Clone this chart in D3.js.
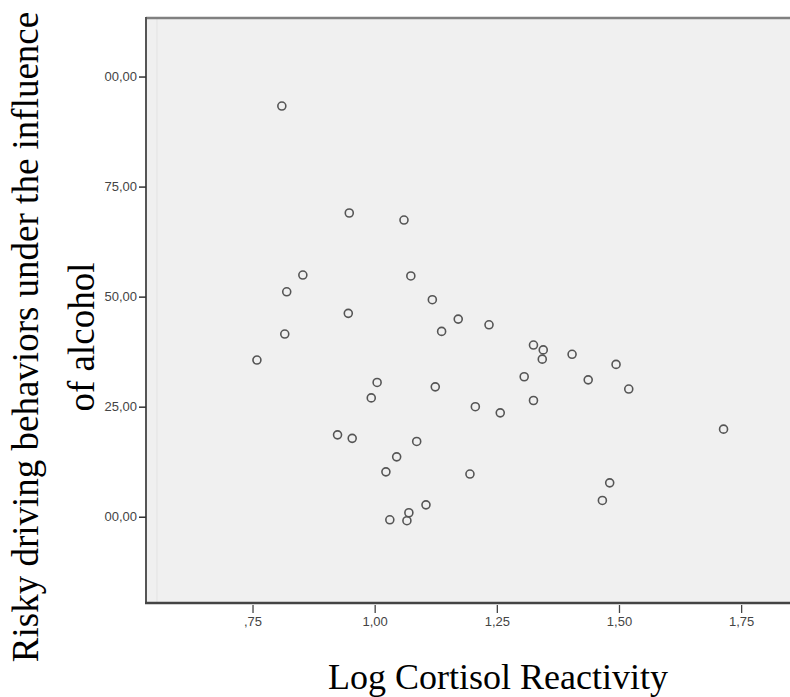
<!DOCTYPE html>
<html>
<head>
<meta charset="utf-8">
<script src="https://cdn.jsdelivr.net/npm/d3@7"></script>
<style>
  body { margin: 0; background: #fff; }
  .tick text { font-family: "Liberation Sans", Arial, sans-serif; fill: #444; }
</style>
</head>
<body>
<div id="chart"></div>
<script>
// data
const logCortisol = [
  0.810, 0.948, 1.060, 0.853, 1.074, 0.820, 1.118, 0.946, 1.171, 1.234,
  1.137, 0.816, 1.325, 1.345, 1.343, 1.404, 0.759, 1.494, 1.306, 1.437,
  1.005, 1.124, 1.520, 0.993, 1.325, 1.206, 1.257, 1.714, 0.924, 0.954,
  1.086, 1.045, 1.023, 1.195, 1.481, 1.466, 1.105, 1.070, 1.031, 1.066
];
const riskyDriving = [
  193.3, 169.0, 167.4, 154.9, 154.7, 151.1, 149.3, 146.2, 144.9, 143.6,
  142.1, 141.5, 139.0, 137.9, 135.8, 136.9, 135.6, 134.6, 131.8, 131.1,
  130.5, 129.5, 129.0, 127.0, 126.4, 125.0, 123.6, 119.9, 118.6, 117.8,
  117.1, 113.6, 110.2, 109.7, 107.7, 103.7, 102.7, 100.9, 99.3, 99.1
];

const xTickValues = [0.75, 1.00, 1.25, 1.50, 1.75];
const xTickLabels = [",75", "1,00", "1,25", "1,50", "1,75"];
const yTickValues = [100, 125, 150, 175, 200];
const yTickLabels = ["100,00", "125,00", "150,00", "175,00", "200,00"];

const xTitle = "Log Cortisol Reactivity";
const yTitle = ["Risky driving behaviors under the influence", "of alcohol"];

const W = 790;
const H = 697;
const plotLeft = 146, plotTop = 18, plotBottom = 603, plotRight = 790;

const svg = d3.select("#chart")
    .append("svg")
    .attr("width", W)
    .attr("height", H)

// scales
const xScale = d3.scaleLinear()
    .domain([0.532, 1.85])
    .range([plotLeft, plotRight])

const yScale = d3.scaleLinear()
    .domain([80.4, 213.3])
    .range([plotBottom, plotTop])

// plot background + frame
svg.append("rect")
    .attr("x", plotLeft)
    .attr("y", plotTop)
    .attr("width", W - plotLeft + 10)
    .attr("height", plotBottom - plotTop)
    .attr("fill", "#f0f0f0")

svg.append("line")
    .attr("x1", plotLeft + 11).attr("x2", plotLeft + 11)
    .attr("y1", plotTop).attr("y2", plotBottom)
    .attr("stroke", "#e3e3e3").attr("stroke-width", 1)

svg.append("line")
    .attr("x1", plotLeft).attr("x2", W + 5)
    .attr("y1", plotTop).attr("y2", plotTop)
    .attr("stroke", "#808080").attr("stroke-width", 2.5)

svg.append("line")
    .attr("x1", plotLeft).attr("x2", plotLeft)
    .attr("y1", plotTop - 1).attr("y2", plotBottom + 1)
    .attr("stroke", "#555").attr("stroke-width", 2)

svg.append("line")
    .attr("x1", plotLeft - 1).attr("x2", W + 5)
    .attr("y1", plotBottom).attr("y2", plotBottom)
    .attr("stroke", "#444").attr("stroke-width", 2.5)

// axes
const xAxis = d3.axisBottom(xScale)
    .tickValues(xTickValues)
    .tickFormat((d, i) => xTickLabels[i])
    .tickSize(8)
    .tickPadding(4)

const yAxis = d3.axisLeft(yScale)
    .tickValues(yTickValues)
    .tickFormat((d, i) => yTickLabels[i])
    .tickSize(7)
    .tickPadding(2)

// the y tick labels are cut off on their left side in the picture
svg.append("clipPath")
    .attr("id", "ylabclip")
    .append("rect")
    .attr("x", 104).attr("y", 0)
    .attr("width", W).attr("height", H)

const gx = svg.append("g")
    .attr("transform", "translate(0," + (plotBottom + 2) + ")")
    .call(xAxis)
gx.select(".domain").remove()
gx.selectAll(".tick line").attr("stroke", "#444").attr("stroke-width", 1.3)
gx.selectAll(".tick text").attr("font-size", 13)

const gy = svg.append("g")
    .attr("clip-path", "url(#ylabclip)")
    .append("g")
    .attr("transform", "translate(" + plotLeft + ",0)")
    .call(yAxis)
gy.select(".domain").remove()
gy.selectAll(".tick line").attr("stroke", "#333").attr("stroke-width", 1.5)
gy.selectAll(".tick text").attr("font-size", 13)

// points
const points = logCortisol.map((d, i) => [d, riskyDriving[i]])

svg.append("g")
    .selectAll("circle")
    .data(points)
    .enter()
    .append("circle")
    .attr("cx", (d) => xScale(d[0]))
    .attr("cy", (d) => yScale(d[1]))
    .attr("r", 4)
    .attr("fill", "none")
    .attr("stroke", "#555")
    .attr("stroke-width", 1.6)

// axis titles
svg.append("text")
    .attr("x", 498)
    .attr("y", 689)
    .attr("text-anchor", "middle")
    .attr("font-family", "'Liberation Serif', 'Times New Roman', serif")
    .attr("font-size", 36)
    .attr("fill", "#000")
    .text(xTitle)

svg.selectAll(".ytitle")
    .data(yTitle)
    .enter()
    .append("text")
    .attr("class", "ytitle")
    .attr("transform", (d, i) => "translate(" + (38 + i * 56) + ",337) rotate(-90)")
    .attr("text-anchor", "middle")
    .attr("font-family", "'Liberation Serif', 'Times New Roman', serif")
    .attr("font-size", 37)
    .attr("fill", "#000")
    .text((d) => d)
</script>
</body>
</html>
